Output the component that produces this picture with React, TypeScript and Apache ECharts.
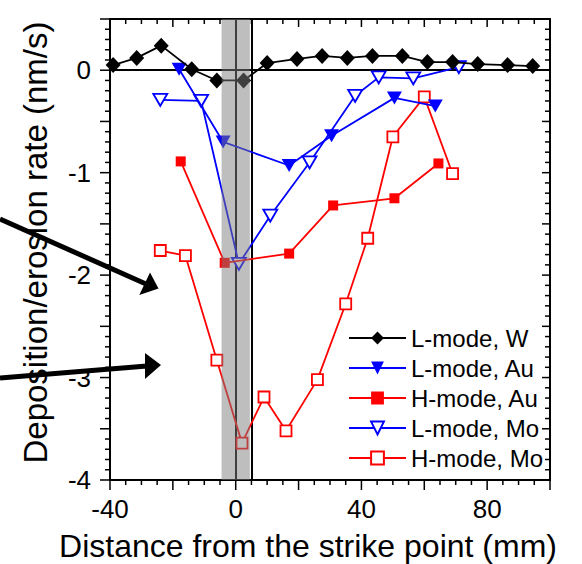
import React, { useEffect, useRef } from "react";
import * as echarts from "echarts";

// Distance from strike point (mm) and deposition/erosion rate (nm/s)
const lW_x = [-39, -31.5, -23.7, -14, -6, 2.5, 10, 19.5, 27.5, 35.5, 43.5, 53, 61, 69, 77, 86.5, 94.5];
const lW_y = [0.05, 0.12, 0.24, 0.01, -0.1, -0.1, 0.07, 0.11, 0.14, 0.12, 0.14, 0.14, 0.08, 0.08, 0.06, 0.05, 0.04];

const lAu_x = [-18, -4, 17, 30.5, 50.5, 63.5];
const lAu_y = [0.01, -0.7, -0.93, -0.64, -0.27, -0.35];

const hAu_x = [-17.5, -3.5, 17, 31, 50.5, 64.5];
const hAu_y = [-0.89, -1.88, -1.79, -1.32, -1.25, -0.91];

const lMo_x = [-24, -11, 1, 11, 23.5, 38, 45.5, 56.5, 71];
const lMo_y = [-0.29, -0.3, -1.89, -1.42, -0.9, -0.25, -0.07, -0.08, 0.03];

const hMo_x = [-24, -16, -6, 2, 9, 16, 26, 35, 42, 50, 60, 69];
const hMo_y = [-1.76, -1.81, -2.83, -3.64, -3.19, -3.52, -3.02, -2.28, -1.64, -0.65, -0.26, -1.01];

const seriesNames = ["L-mode, W", "L-mode, Au", "H-mode, Au", "L-mode, Mo", "H-mode, Mo"];
const xLabelValues = [-40, 0, 40, 80];
const yLabelValues = [-4, -3, -2, -1, 0];
const shadedBand = [-4.5, 4.5];
const refLinesX = [0, 5];

// Axis ranges and tick steps
const X_MIN = -40, X_MAX = 100, X_MAJOR = 20, X_MINOR = 5;
const Y_MIN = -4, Y_MAX = 0.5, Y_MAJOR = 0.5, Y_MINOR = 0.1;

const pairs = (xs: number[], ys: number[]) => xs.map((x, i) => [x, ys[i]]);

function tickValues(min: number, max: number, minor: number, major: number) {
  const out: number[][] = [];
  const n = Math.round((max - min) / minor);
  for (let i = 0; i <= n; i++) {
    const v = +(min + i * minor).toFixed(6);
    const isMajor = Math.abs(v / major - Math.round(v / major)) < 1e-6 ? 1 : 0;
    out.push([v, isMajor]);
  }
  return out;
}

const FONT = "'Liberation Sans', Arial, sans-serif";

export default function App() {
  const ref = useRef<HTMLDivElement>(null);
  useEffect(() => {
    const chart = echarts.init(ref.current!, null, { renderer: "svg" });
    const axisLine = { show: true, onZero: false, lineStyle: { color: "#000", width: 2 } };

    chart.setOption({
      animation: false,
      backgroundColor: "#fff",
      grid: { left: 110, right: 32, top: 19, bottom: 84, containLabel: false, outerBoundsMode: "none" },
      xAxis: [
        {
          type: "value",
          position: "bottom",
          min: X_MIN,
          max: X_MAX,
          interval: X_MAJOR,
          splitLine: { show: false },
          axisLine,
          axisTick: { show: false },
          axisLabel: {
            formatter: (v: number) => (xLabelValues.some((t) => Math.abs(t - v) < 1e-6) ? String(Math.round(v)) : ""),
            fontSize: 26,
            color: "#000",
            fontFamily: FONT,
            margin: 16,
          },
          name: "Distance from the strike point (mm)",
          nameLocation: "middle",
          nameGap: 51,
          nameTextStyle: { fontSize: 32, lineHeight: 30, color: "#000", fontFamily: FONT, padding: [0, 44, 0, 0] },
        },
        {
          type: "value",
          position: "top",
          min: X_MIN,
          max: X_MAX,
          interval: X_MAJOR,
          splitLine: { show: false },
          axisLine,
          axisTick: { show: false },
          axisLabel: { show: false },
        },
      ],
      yAxis: [
        {
          type: "value",
          position: "left",
          min: Y_MIN,
          max: Y_MAX,
          interval: Y_MAJOR,
          splitLine: { show: false },
          axisLine,
          axisTick: { show: false },
          axisLabel: {
            formatter: (v: number) => (yLabelValues.some((t) => Math.abs(t - v) < 1e-6) ? String(Math.round(v)) : ""),
            fontSize: 26,
            color: "#000",
            fontFamily: FONT,
            margin: 19,
          },
          name: "Deposition/erosion rate (nm/s)",
          nameLocation: "middle",
          nameGap: 58,
          nameTextStyle: { fontSize: 33, color: "#000", fontFamily: FONT, padding: [0, 0, 0, 14] },
        },
        {
          type: "value",
          position: "right",
          min: Y_MIN,
          max: Y_MAX,
          interval: Y_MAJOR,
          splitLine: { show: false },
          axisLine,
          axisTick: { show: false },
          axisLabel: { show: false },
        },
      ],
      legend: {
        orient: "vertical",
        left: 343,
        top: 321,
        itemWidth: 57,
        itemHeight: 16,
        itemGap: 6,
        selectedMode: false,
        data: seriesNames,
        textStyle: { fontSize: 24, color: "#000", fontFamily: FONT },
      },
      series: [
        {
          type: "line",
          data: [],
          silent: true,
          markLine: {
            silent: true,
            z: 1,
            symbol: ["none", "none"],
            label: { show: false },
            lineStyle: { color: "#000", width: 2, type: "solid" },
            data: [...refLinesX.map((x) => ({ xAxis: x })), { yAxis: 0 }],
          },
        },
        {
          name: seriesNames[4],
          type: "line",
          data: pairs(hMo_x, hMo_y),
          color: "#ff0000",
          symbol: "rect",
          symbolSize: 11,
          itemStyle: { color: "#fff", borderColor: "#ff0000", borderWidth: 1.8 },
          lineStyle: { color: "#ff0000", width: 1.8 },
          z: 2,
        },
        {
          name: seriesNames[3],
          type: "line",
          data: pairs(lMo_x, lMo_y),
          color: "#0000ff",
          symbol: "triangle",
          symbolRotate: 180,
          symbolSize: [14, 12],
          itemStyle: { color: "#fff", borderColor: "#0000ff", borderWidth: 1.8 },
          lineStyle: { color: "#0000ff", width: 1.8 },
          z: 3,
        },
        {
          name: seriesNames[2],
          type: "line",
          data: pairs(hAu_x, hAu_y),
          color: "#ff0000",
          symbol: "rect",
          symbolSize: 10,
          itemStyle: { color: "#ff0000" },
          lineStyle: { color: "#ff0000", width: 1.8 },
          z: 4,
        },
        {
          name: seriesNames[1],
          type: "line",
          data: pairs(lAu_x, lAu_y),
          color: "#0000ff",
          symbol: "triangle",
          symbolRotate: 180,
          symbolSize: [15, 13],
          itemStyle: { color: "#0000ff" },
          lineStyle: { color: "#0000ff", width: 1.8 },
          z: 5,
        },
        {
          name: seriesNames[0],
          type: "line",
          data: pairs(lW_x, lW_y),
          color: "#000",
          symbol: "diamond",
          symbolSize: [15, 16],
          itemStyle: { color: "#000" },
          lineStyle: { color: "#000", width: 1.8 },
          z: 6,
        },
        {
          type: "line",
          data: [],
          silent: true,
          markArea: {
            silent: true,
            z: 10,
            itemStyle: { color: "rgba(125,125,125,0.5)" },
            data: [[{ xAxis: shadedBand[0] }, { xAxis: shadedBand[1] }]],
          },
        },
      ],
    });

    // Axis ticks placed through the chart's own scales
    const px = (v: number) => chart.convertToPixel({ xAxisIndex: 0 }, v) as number;
    const py = (v: number) => chart.convertToPixel({ yAxisIndex: 0 }, v) as number;
    const left = px(X_MIN), right = px(X_MAX), top = py(Y_MAX), bottom = py(Y_MIN);
    const tickStyle = { stroke: "#000", lineWidth: 1.5 };
    const ticks: any[] = [];
    tickValues(X_MIN, X_MAX, X_MINOR, X_MAJOR).forEach(([v, m]) => {
      const x = px(v);
      ticks.push({ type: "line", silent: true, shape: { x1: x, y1: bottom, x2: x, y2: bottom + (m ? 10 : 5) }, style: { ...tickStyle } });
      ticks.push({ type: "line", silent: true, shape: { x1: x, y1: top, x2: x, y2: top + (m ? 8 : 5) }, style: { ...tickStyle } });
    });
    tickValues(Y_MIN, Y_MAX, Y_MINOR, Y_MAJOR).forEach(([v, m]) => {
      const y = py(v);
      ticks.push({ type: "line", silent: true, shape: { x1: left, y1: y, x2: left - (m ? 10 : 5), y2: y }, style: { ...tickStyle } });
      ticks.push({ type: "line", silent: true, shape: { x1: right, y1: y, x2: right - (m ? 8 : 5), y2: y }, style: { ...tickStyle } });
    });

    chart.setOption({
      graphic: [
        { type: "line", shape: { x1: 0, y1: 219, x2: 146, y2: 284 }, style: { stroke: "#000", lineWidth: 5 } },
        { type: "polygon", shape: { points: [[158.5, 288.5], [150, 272.5], [139.3, 295]] }, style: { fill: "#000" } },
        { type: "line", shape: { x1: 0, y1: 378, x2: 147, y2: 366 }, style: { stroke: "#000", lineWidth: 5 } },
        { type: "polygon", shape: { points: [[161, 365], [145, 353], [145, 379]] }, style: { fill: "#000" } },
        ...ticks,
      ],
    });
    return () => chart.dispose();
  }, []);
  return (
    <div
      ref={ref}
      style={{ position: "fixed", left: 0, top: 0, width: 582, height: 564, background: "#fff" }}
    />
  );
}
